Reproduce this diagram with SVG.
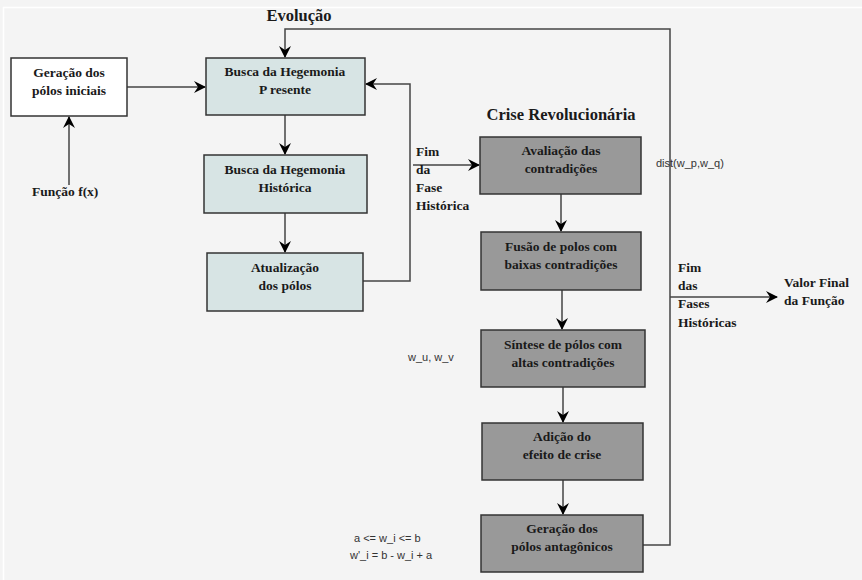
<svg xmlns="http://www.w3.org/2000/svg" width="862" height="580" viewBox="0 0 862 580">
<defs>
<style>
.bg{fill:#f4f4f4}
.frame{fill:none;stroke:#ffffff;stroke-width:1.5}
.node rect{stroke:#333;stroke-width:1.5}
.white{fill:#ffffff}
.light{fill:#d7e4e4}
.dark{fill:#999999}
.t{font-family:"Liberation Serif","Times New Roman",serif;font-weight:bold;font-size:13.5px;fill:#1a1a1a;text-anchor:middle}
.l{font-family:"Liberation Serif","Times New Roman",serif;font-weight:bold;font-size:13.5px;fill:#1a1a1a}
.title{font-family:"Liberation Serif","Times New Roman",serif;font-weight:bold;font-size:16.5px;fill:#1a1a1a;text-anchor:middle}
.s{font-family:"Liberation Sans",Arial,sans-serif;font-size:11px;fill:#333}
.c{fill:none;stroke:#444;stroke-width:1.5}
</style>
<marker id="arr" viewBox="0 0 12 12" refX="11" refY="6" markerWidth="12" markerHeight="12" markerUnits="userSpaceOnUse" orient="auto">
<path d="M0,0 L12,6 L0,12 L4,6 z" fill="#000"/>
</marker>
</defs>
<rect class="bg" x="0" y="0" width="862" height="580"/>
<rect class="frame" x="3.5" y="7.5" width="860" height="580"/>

<text class="title" x="299" y="21">Evolução</text>
<text class="title" x="561" y="120">Crise Revolucionária</text>

<g id="connectors">
<path class="c" d="M127,87 L205,87" marker-end="url(#arr)"/>
<path class="c" d="M69,185 L69,117" marker-end="url(#arr)"/>
<path class="c" d="M643,545 L670,545 L670,29 L285,29 L285,57" marker-end="url(#arr)"/>
<path class="c" d="M285,115 L285,154" marker-end="url(#arr)"/>
<path class="c" d="M285,213 L285,252" marker-end="url(#arr)"/>
<path class="c" d="M363,281 L410,281 L410,84 L366,84" marker-end="url(#arr)"/>
<path class="c" d="M413,165 L479,165" marker-end="url(#arr)"/>
<path class="c" d="M561,194 L561,231" marker-end="url(#arr)"/>
<path class="c" d="M562,290 L562,329" marker-end="url(#arr)"/>
<path class="c" d="M563,387 L563,422" marker-end="url(#arr)"/>
<path class="c" d="M563,480 L563,514" marker-end="url(#arr)"/>
<path class="c" d="M670,297 L777,297" marker-end="url(#arr)"/>
</g>

<g id="geracao-iniciais" class="node">
<rect class="white" x="11" y="58" width="116" height="58"/>
<text class="t" x="69" y="77">Geração dos</text>
<text class="t" x="69" y="95">pólos iniciais</text>
</g>
<g id="funcao" >
<text class="l" x="32" y="196">Função f(x)</text>
</g>
<g id="busca-presente" class="node">
<rect class="light" x="206" y="58" width="159" height="57"/>
<text class="t" x="285" y="76">Busca da Hegemonia</text>
<text class="t" x="285" y="94">P resente</text>
</g>
<g id="busca-historica" class="node">
<rect class="light" x="204" y="155" width="163" height="58"/>
<text class="t" x="285" y="174">Busca da Hegemonia</text>
<text class="t" x="285" y="192">Histórica</text>
</g>
<g id="atualizacao" class="node">
<rect class="light" x="207" y="253" width="156" height="58"/>
<text class="t" x="285" y="272">Atualização</text>
<text class="t" x="285" y="290">dos pólos</text>
</g>
<g id="fim-fase">
<text class="l" x="416" y="156">Fim</text>
<text class="l" x="416" y="174">da</text>
<text class="l" x="416" y="192">Fase</text>
<text class="l" x="416" y="210">Histórica</text>
</g>
<g id="avaliacao" class="node">
<rect class="dark" x="480" y="137" width="161" height="57"/>
<text class="t" x="561" y="155">Avaliação das</text>
<text class="t" x="561" y="173">contradições</text>
</g>
<g id="fusao" class="node">
<rect class="dark" x="481" y="232" width="160" height="58"/>
<text class="t" x="561" y="251">Fusão de polos com</text>
<text class="t" x="561" y="269">baixas contradições</text>
</g>
<g id="sintese" class="node">
<rect class="dark" x="481" y="330" width="164" height="57"/>
<text class="t" x="563" y="349">Síntese de pólos com</text>
<text class="t" x="563" y="367">altas contradições</text>
</g>
<g id="adicao" class="node">
<rect class="dark" x="482" y="423" width="161" height="57"/>
<text class="t" x="562" y="441">Adição do</text>
<text class="t" x="562" y="459">efeito de crise</text>
</g>
<g id="geracao-antagonicos" class="node">
<rect class="dark" x="481" y="515" width="162" height="57"/>
<text class="t" x="562" y="533">Geração dos</text>
<text class="t" x="562" y="551">pólos antagônicos</text>
</g>
<g id="fim-fases">
<text class="l" x="678" y="272">Fim</text>
<text class="l" x="678" y="290">das</text>
<text class="l" x="678" y="308">Fases</text>
<text class="l" x="678" y="327">Históricas</text>
</g>
<g id="valor-final">
<text class="l" x="784" y="287">Valor Final</text>
<text class="l" x="784" y="305">da Função</text>
</g>
<g id="labels">
<text class="s" x="656" y="167">dist(w_p,w_q)</text>
<text class="s" x="408" y="361">w_u, w_v</text>
<text class="s" x="354" y="542">a &lt;= w_i &lt;= b</text>
<text class="s" x="350" y="559">w'_i = b - w_i + a</text>
</g>
</svg>
